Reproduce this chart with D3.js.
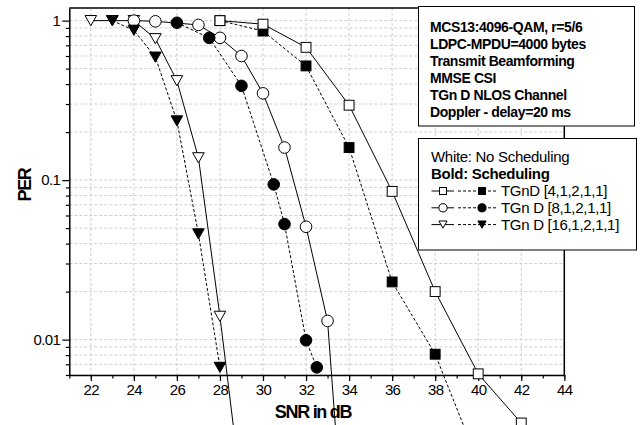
<!DOCTYPE html>
<html>
<head>
<meta charset="utf-8">
<script src="https://cdn.jsdelivr.net/npm/d3@7"></script>
<style>
  html, body { margin: 0; padding: 0; background: #fff; }
  svg { display: block; font-family: Arial, "Liberation Sans", sans-serif; }
</style>
</head>
<body>
<div id="chart"></div>
<script>
// PER vs SNR for MCS13 with and without scheduling, three TGn D configurations
const snr4Open = [28, 30, 32, 34, 36, 38, 40, 42];
const per4Open = [1.0, 0.95, 0.68, 0.295, 0.085, 0.020, 0.0061, 0.0030];
const snr4Filled = [28, 30, 32, 34, 36, 38, 40];
const per4Filled = [1.0, 0.86, 0.52, 0.16, 0.023, 0.0081, 0.0017];

const snr8Open = [24, 25, 27, 28, 29, 30, 31, 32, 33, 34];
const per8Open = [1.0, 0.99, 0.94, 0.78, 0.60, 0.35, 0.16, 0.051, 0.0131, 0.0002];
const snr8Filled = [26, 27.5, 29, 30.5, 31, 32, 32.5];
const per8Filled = [0.97, 0.78, 0.39, 0.094, 0.053, 0.0099, 0.0067];

const snr16Open = [22, 23, 24, 25, 26, 27, 28, 29];
const per16Open = [1.0, 1.0, 1.0, 0.77, 0.42, 0.138, 0.014, 0.0011];
const snr16Filled = [23, 24, 25, 26, 27, 28];
const per16Filled = [1.0, 0.87, 0.59, 0.235, 0.046, 0.0067];

const xMajorTicks = [22, 24, 26, 28, 30, 32, 34, 36, 38, 40, 42, 44];
const xMinorTicks = d3.range(21, 45, 1);
const yMajorTicks = [0.01, 0.1, 1];
const yTickLabels = ["0.01", "0.1", "1"];
const yMinorTicks = [0.006, 0.007, 0.008, 0.009,
  0.02, 0.03, 0.04, 0.05, 0.06, 0.07, 0.08, 0.09,
  0.2, 0.3, 0.4, 0.5, 0.6, 0.7, 0.8, 0.9];

const infoLines = [
  "MCS13:4096-QAM, r=5/6",
  "LDPC-MPDU=4000 bytes",
  "Transmit Beamforming",
  "MMSE CSI",
  "TGn D NLOS Channel",
  "Doppler - delay=20 ms"
];
const legendHeader = ["White: No Scheduling", "Bold: Scheduling"];
const legendLabels = ["TGnD [4,1,2,1,1]", "TGn D [8,1,2,1,1]", "TGn D [16,1,2,1,1]"];
const legendShapes = ["square", "circle", "triangle"];

const W = 643, H = 425;
const plot = { left: 69.3, right: 564.3, top: 8, bottom: 375 };

const x = d3.scaleLinear().domain([21, 44]).range([plot.left, plot.right]);
const y = d3.scaleLog().domain([0.006, 1.2]).range([plot.bottom, plot.top]);

const svg = d3.select("#chart").append("svg")
  .attr("width", W).attr("height", H);

// grid
const grid = svg.append("g").attr("stroke", "#cfcfcf").attr("stroke-width", 1)
  .attr("stroke-dasharray", "3,2").attr("fill", "none");
grid.selectAll("line.gx").data(xMajorTicks).join("line")
  .attr("x1", d => x(d)).attr("x2", d => x(d))
  .attr("y1", plot.top).attr("y2", plot.bottom);
grid.selectAll("line.gy").data(yMajorTicks.concat(yMinorTicks)).join("line")
  .attr("x1", plot.left).attr("x2", plot.right)
  .attr("y1", d => y(d)).attr("y2", d => y(d));

// axes
const fontTick = "15px";
const xAxis = svg.append("g").attr("transform", `translate(0,${plot.bottom})`)
  .call(d3.axisBottom(x).tickValues(xMajorTicks).tickSize(6).tickSizeOuter(0).tickPadding(3));
svg.append("g").attr("transform", `translate(0,${plot.bottom})`)
  .call(d3.axisBottom(x).tickValues(xMinorTicks).tickSize(3.5).tickFormat("").tickSizeOuter(0))
  .select(".domain").remove();
xAxis.selectAll("text").attr("font-size", fontTick).attr("fill", "#000")
  .attr("letter-spacing", "-0.6px").attr("font-family", "Arial, 'Liberation Sans', sans-serif");

const yAxis = svg.append("g").attr("transform", `translate(${plot.left},0)`)
  .call(d3.axisLeft(y).tickValues(yMajorTicks).tickSize(7).tickSizeOuter(0).tickPadding(2)
    .tickFormat((d, i) => yTickLabels[i]));
svg.append("g").attr("transform", `translate(${plot.left},0)`)
  .call(d3.axisLeft(y).tickValues(yMinorTicks).tickSize(3.5).tickFormat("").tickSizeOuter(0))
  .select(".domain").remove();
yAxis.selectAll("text").attr("font-size", fontTick).attr("fill", "#000")
  .attr("letter-spacing", "-0.6px").attr("font-family", "Arial, 'Liberation Sans', sans-serif");

svg.selectAll(".tick line").attr("stroke", "#000").attr("stroke-width", 1.2);
svg.selectAll(".domain").attr("stroke", "#000").attr("stroke-width", 1.5);

// frame top and right
svg.append("path")
  .attr("d", `M${plot.left},${plot.top}H${plot.right}V${plot.bottom}`)
  .attr("fill", "none").attr("stroke", "#000").attr("stroke-width", 1.5);

// axis titles
svg.append("text")
  .attr("x", 313).attr("y", 418)
  .attr("text-anchor", "middle").attr("font-size", "18px").attr("font-weight", "bold")
  .attr("letter-spacing", "-1.3px").text("SNR in dB");
svg.append("text")
  .attr("transform", "translate(31,185) rotate(-90)")
  .attr("text-anchor", "middle").attr("font-size", "18px").attr("font-weight", "bold")
  .attr("letter-spacing", "-1.3px").text("PER");

// series
const series = [
  { key: "o16", xs: snr16Open, ys: per16Open, shape: "triangle", filled: false },
  { key: "f4", xs: snr4Filled, ys: per4Filled, shape: "square", filled: true },
  { key: "o4", xs: snr4Open, ys: per4Open, shape: "square", filled: false },
  { key: "o8", xs: snr8Open, ys: per8Open, shape: "circle", filled: false },
  { key: "f8", xs: snr8Filled, ys: per8Filled, shape: "circle", filled: true },
  { key: "f16", xs: snr16Filled, ys: per16Filled, shape: "triangle", filled: true }
];

const line = d3.line().x(d => x(d[0])).y(d => y(d[1]));
const linesG = svg.append("g");
series.forEach(s => {
  const pts = s.xs.map((v, i) => [v, s.ys[i]]);
  linesG.append("path").datum(pts)
    .attr("d", line).attr("fill", "none").attr("stroke", "#000")
    .attr("stroke-width", 1)
    .attr("stroke-dasharray", s.filled ? "3,2" : null);
});

function drawMarker(g, shape, cx, cy, size, filled) {
  const fill = filled ? "#000" : "#fff";
  if (shape === "circle") {
    g.append("circle").attr("cx", cx).attr("cy", cy).attr("r", size / 2)
      .attr("fill", fill).attr("stroke", "#000").attr("stroke-width", 1);
  } else if (shape === "square") {
    const s = size * 0.85;
    g.append("rect").attr("x", cx - s / 2).attr("y", cy - s / 2)
      .attr("width", s).attr("height", s)
      .attr("fill", fill).attr("stroke", "#000").attr("stroke-width", 1);
  } else {
    const w = size, h = size * 0.88;
    g.append("path")
      .attr("d", `M${cx - w / 2},${cy - h / 2}L${cx + w / 2},${cy - h / 2}L${cx},${cy + h / 2}Z`)
      .attr("fill", fill).attr("stroke", "#000").attr("stroke-width", 1);
  }
}

const markersG = svg.append("g");
series.forEach(s => {
  s.xs.forEach((v, i) => drawMarker(markersG, s.shape, x(v), y(s.ys[i]), 11.6, s.filled));
});

// info box
const info = svg.append("g");
info.append("rect").attr("x", 418.5).attr("y", 6.5).attr("width", 216).attr("height", 119.5)
  .attr("fill", "#fff").attr("stroke", "#000").attr("stroke-width", 1);
info.selectAll("text").data(infoLines).join("text")
  .attr("x", 430).attr("y", (d, i) => 31.7 + i * 17.1)
  .attr("font-size", "14px").attr("font-weight", "bold").attr("letter-spacing", "-0.4px")
  .text(d => d);

// legend
const leg = svg.append("g");
leg.append("rect").attr("x", 418.5).attr("y", 138.5).attr("width", 218).attr("height", 111.5)
  .attr("fill", "#fff").attr("stroke", "#000").attr("stroke-width", 1);
leg.selectAll("text.h").data(legendHeader).join("text")
  .attr("x", 431).attr("y", (d, i) => 162 + i * 16.8)
  .attr("font-size", "15px").attr("font-weight", (d, i) => i === 1 ? "bold" : "normal")
  .attr("letter-spacing", "-0.3px")
  .text(d => d);
legendLabels.forEach((lab, i) => {
  const by = 196 + i * 16.8;
  const cy = by - 5;
  leg.append("line").attr("x1", 431.5).attr("x2", 454).attr("y1", cy).attr("y2", cy)
    .attr("stroke", "#000").attr("stroke-width", 1);
  leg.append("line").attr("x1", 458).attr("x2", 497).attr("y1", cy).attr("y2", cy)
    .attr("stroke", "#000").attr("stroke-width", 1).attr("stroke-dasharray", "3,2");
  drawMarker(leg, legendShapes[i], 443, cy, 8.2, false);
  drawMarker(leg, legendShapes[i], 482, cy, 8.2, true);
  leg.append("text").attr("x", 501).attr("y", by)
    .attr("font-size", "15px").attr("letter-spacing", "-0.3px").text(lab);
});
</script>
</body>
</html>
